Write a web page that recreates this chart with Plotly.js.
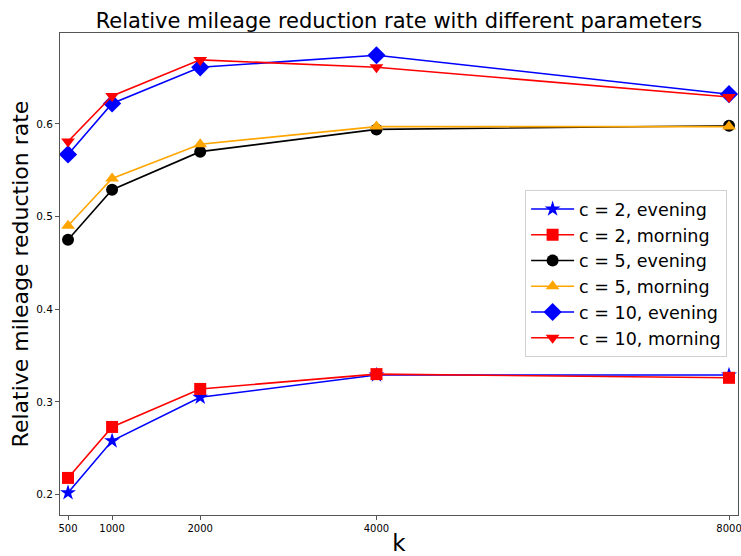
<!DOCTYPE html>
<html>
<head>
<meta charset="utf-8">
<script src="https://cdn.plot.ly/plotly-3.0.1.min.js"></script>
<style>html,body{margin:0;padding:0;background:#fff;}#chart{width:741px;height:556px;}</style>
</head>
<body>
<div id="chart"></div>
<script>
const kValues = [500, 1000, 2000, 4000, 8000];
const xTickLabels = ["500", "1000", "2000", "4000", "8000"];
const yTickValues = [0.2, 0.3, 0.4, 0.5, 0.6];
const yTickLabels = ["0.2", "0.3", "0.4", "0.5", "0.6"];

const c2Evening  = [0.202, 0.258, 0.305, 0.329, 0.329];
const c2Morning  = [0.218, 0.273, 0.314, 0.330, 0.326];
const c5Evening  = [0.475, 0.529, 0.570, 0.594, 0.598];
const c5Morning  = [0.490, 0.541, 0.578, 0.597, 0.597];
const c10Evening = [0.567, 0.622, 0.661, 0.674, 0.632];
const c10Morning = [0.581, 0.630, 0.669, 0.661, 0.629];

const seriesNames = ["c = 2, evening", "c = 2, morning", "c = 5, evening", "c = 5, morning", "c = 10, evening", "c = 10, morning"];
const seriesValues = [c2Evening, c2Morning, c5Evening, c5Morning, c10Evening, c10Morning];
const seriesColors = ["#0000ff", "#ff0000", "#000000", "#ffa500", "#0000ff", "#ff0000"];
const seriesSymbols = ["star", "square", "circle", "triangle-up", "diamond", "triangle-down"];
const seriesSizes = [12, 12, 12, 12, 14, 12];

const traces = seriesNames.map((name, i) => ({
  type: "scatter",
  mode: "lines+markers",
  name: name,
  x: kValues,
  y: seriesValues[i],
  line: {color: seriesColors[i], width: 1.6},
  marker: {color: seriesColors[i], symbol: seriesSymbols[i], size: seriesSizes[i], line: {width: 0}}
}));

const font = "DejaVu Sans, sans-serif";
const layout = {
  width: 741, height: 556,
  margin: {l: 60, r: 3, t: 33, b: 41},
  paper_bgcolor: "#fff", plot_bgcolor: "#fff",
  font: {family: font, color: "#000"},
  title: {text: "Relative mileage reduction rate with different parameters", font: {family: font, size: 21, color: "#000"}, xref: "paper", x: 0.5, xanchor: "center", y: 0.962, yanchor: "middle"},
  showlegend: true,
  legend: {x: 0.686, y: 0.674, xanchor: "left", yanchor: "top", font: {family: font, size: 17.5, color: "#000"}, bordercolor: "#d0d0d0", borderwidth: 1, bgcolor: "rgba(255,255,255,0.8)", tracegroupgap: 0, itemwidth: 43},
  xaxis: {
    range: [409, 8102], tickvals: kValues, ticktext: xTickLabels, ticklabeloverflow: "allow",
    showgrid: false, zeroline: false, showline: true, mirror: true, linecolor: "#555", linewidth: 1,
    ticks: "outside", ticklen: 4, tickcolor: "#555", tickfont: {family: font, size: 10, color: "#000"}, ticklabelstandoff: 0,
    title: {text: "k", font: {family: font, size: 23, color: "#000"}, standoff: 4}
  },
  yaxis: {
    range: [0.178, 0.698], tickvals: yTickValues, ticktext: yTickLabels,
    showgrid: false, zeroline: false, showline: true, mirror: true, linecolor: "#555", linewidth: 1,
    ticks: "outside", ticklen: 4, tickcolor: "#555", tickfont: {family: font, size: 10.5, color: "#000"},
    title: {text: "Relative mileage reduction rate", font: {family: font, size: 22, color: "#000"}, standoff: 1}
  }
};

Plotly.newPlot("chart", traces, layout, {displayModeBar: false, staticPlot: true});
</script>
</body>
</html>
